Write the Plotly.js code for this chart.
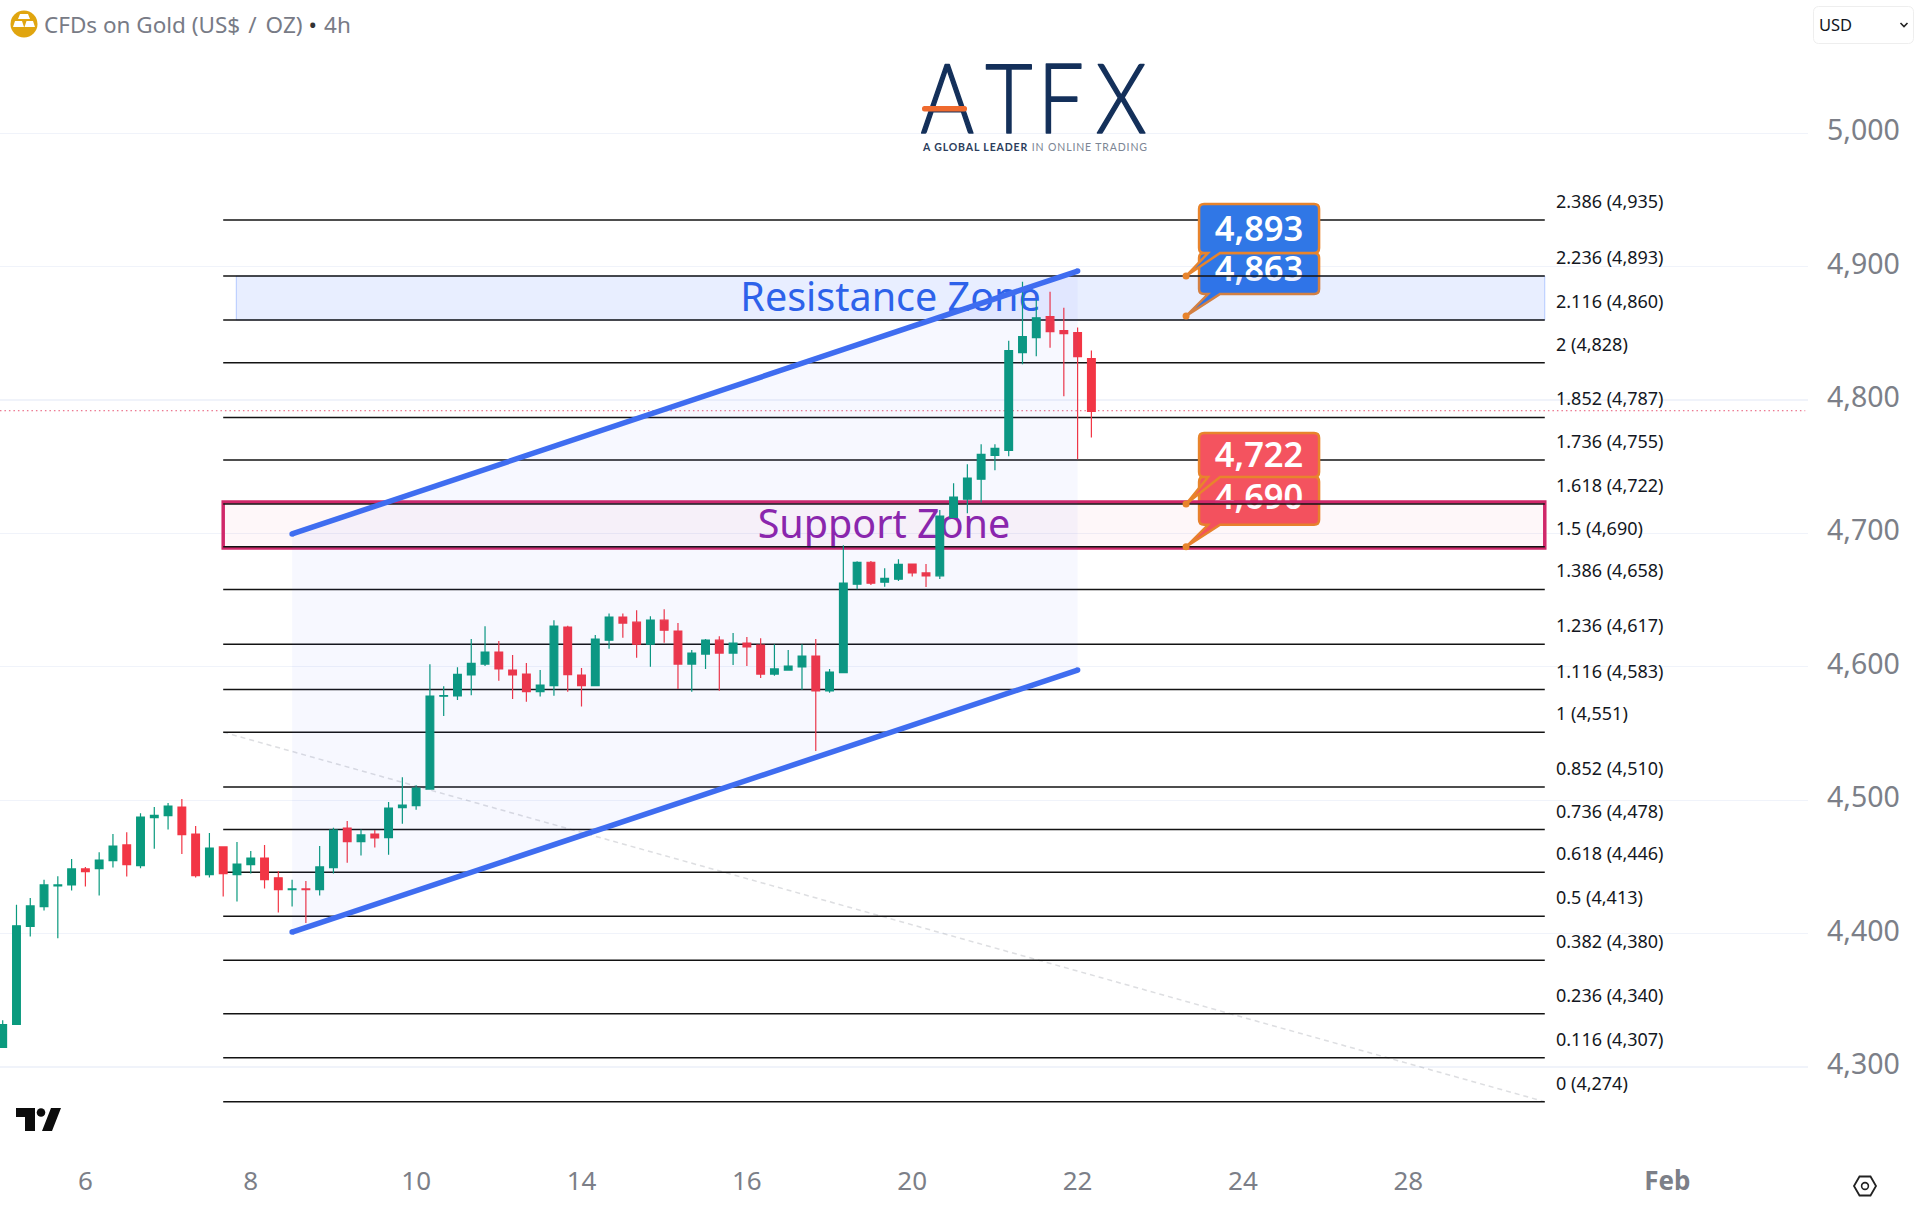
<!DOCTYPE html>
<html>
<head>
<meta charset="utf-8">
<title>CFDs on Gold</title>
<script src="https://cdn.plot.ly/plotly-3.0.1.min.js"></script>
<style>
  html, body { margin: 0; padding: 0; background: #fff; overflow: hidden; }
  #graph { position: absolute; left: 0; top: 0; width: 1918px; height: 1214px; }
  #overlay { position: absolute; left: 0; top: 0; pointer-events: none; }
</style>
</head>
<body>
<div id="graph"></div>
<svg id="overlay" width="1918" height="1214">
  <!-- symbol icon -->
  <circle cx="24" cy="24" r="13.5" fill="#e0a50f"/>
  <path d="M20 13h8l2 5h-12zM13 26l2-6h7l2 6zM24.5 26l2-6h6.5l2 6z" fill="#fff" transform="translate(0,1)"/>
  <text x="44" y="33" font-family="Noto Sans" font-size="22.5" fill="#787b86">CFDs on Gold (US$<tspan dx="8">/</tspan><tspan dx="9">OZ)</tspan><tspan fill="#333" dx="6">•</tspan><tspan dx="7">4h</tspan></text>
  <!-- logo -->
  <text transform="translate(0,133) scale(0.85,1)" x="1083 1159 1221 1289" y="0" font-family="Lato" font-weight="300" font-size="96" fill="#14305a" stroke="#14305a" stroke-width="1.6" stroke-linejoin="round">ATFX</text>
  <rect x="922" y="106" width="45" height="5.5" rx="2.5" fill="#ef6a2e"/>
  <text x="923" y="151" font-family="Lato" font-size="10.5" textLength="224" fill="#7b8594"><tspan font-weight="700" fill="#2b3d5c">A GLOBAL LEADER</tspan> IN ONLINE TRADING</text>
  <!-- currency box -->
  <rect x="1813.5" y="6.5" width="100" height="37" rx="5" fill="#fff" stroke="#eeeeee"/>
  <text x="1819" y="31" font-family="Noto Sans" font-size="16.5" fill="#131722">USD</text>
  <path d="M1900.5 23l3.5 3.5 3.5-3.5" fill="none" stroke="#222" stroke-width="1.6"/>
  <!-- tv mark -->
  <path d="M16 1108h19v23h-10v-14h-9zM51 1108h10l-9 23h-10z" fill="#0c0c0c"/>
  <circle cx="41" cy="1112.5" r="4.3" fill="#0c0c0c"/>
  <!-- settings -->
  <path d="M1854 1186l5.5-9.5h11l5.5 9.5-5.5 9.5h-11z" fill="none" stroke="#222" stroke-width="1.8"/>
  <circle cx="1865" cy="1186" r="3.4" fill="none" stroke="#222" stroke-width="1.6"/>
</svg>
<script>
// candles, one entry per 4h bar, oldest first
var opens  = [4314.8,4332,4405.4,4420.3,4435.8,4436.5,4448.5,4448.8,4454.7,4466.5,4451,4487,4488.4,4494.9,4474.7,4444.3,4465,4444.3,4451.7,4456.7,4441.8,4433,4433.5,4433,4449.5,4479.2,4469,4474.7,4472,4494.4,4495.9,4508.4,4578,4578.2,4593.9,4602.1,4611.1,4597.6,4594.6,4581.4,4585.9,4629.8,4593.9,4585.9,4620,4637.3,4633.5,4617,4635,4626.8,4602.1,4609.6,4620,4610.3,4617.8,4616.3,4594.6,4597.6,4599.9,4608.1,4581.9,4595.6,4662,4678.4,4663.4,4665.7,4677.1,4670.4,4668.2,4712,4725.7,4740.7,4758.6,4762.3,4835.6,4846.8,4862.5,4852,4850.5,4831.1];
var highs  = [4335,4421.6,4426.8,4440.3,4443,4456,4450,4461,4474.7,4476,4490.2,4494.9,4497.9,4500.9,4480.7,4475.4,4465,4468.7,4462,4466.5,4447,4440.3,4439.5,4465.7,4479.4,4484.4,4478,4477.7,4498.6,4517.3,4511.3,4601.9,4585.4,4599.6,4620.8,4630.5,4619.3,4608.8,4602.9,4597.6,4635,4630.8,4599.1,4623.8,4640,4640,4642.5,4638,4643.2,4632.8,4612.6,4620.8,4623,4625.3,4622.3,4621.5,4617,4612.6,4617,4620.8,4598.4,4691.1,4679.2,4679.4,4673.9,4680.6,4677.1,4677.1,4717.5,4737.7,4751.9,4766.8,4766.8,4844.5,4888.6,4875.2,4881.2,4869.2,4854.3,4837.1];
var lows   = [4314.8,4332,4397.9,4417.3,4396.6,4432.3,4435.3,4428.6,4449.5,4442.8,4449,4463.7,4478,4459.7,4442,4442,4427.8,4424,4445,4433.8,4415.8,4420.3,4408,4428.6,4445,4453.2,4458.5,4464.5,4459.2,4482.4,4492.9,4508.4,4563.2,4575.2,4578.7,4600.6,4589.6,4575.9,4573.9,4577.7,4578.4,4581.4,4570.2,4585.9,4613.6,4621.8,4606.8,4600.1,4618,4583.4,4581.4,4598.4,4582.1,4601.3,4600.6,4591.6,4593.4,4597.1,4582.9,4537,4580.6,4595.6,4658.2,4661.4,4660,4664.4,4667.7,4659.9,4665.9,4712,4715.2,4723.2,4747.4,4757.8,4826.9,4832.8,4839.3,4802.9,4755.6,4772];
var closes = [4331.8,4405.9,4420.8,4436.5,4436.5,4448.5,4446.5,4455.2,4465.7,4451.7,4487.4,4488.7,4495.6,4474.2,4443.5,4464.2,4445,4452.2,4456.7,4440.5,4433,4433.5,4433,4450,4477.7,4469,4474,4471.7,4494.1,4496.4,4509.1,4578,4578.5,4594.4,4602.6,4611.1,4598.4,4593.9,4581.4,4586.4,4630.5,4594.1,4585.9,4620.8,4637.3,4632.8,4617,4635,4627.5,4602.1,4610.3,4620,4610.3,4617.8,4615,4594.6,4598.4,4600.6,4608.1,4581.9,4596.1,4662.7,4678.4,4662.7,4666.4,4676.9,4670.4,4668.2,4713,4727.2,4741.4,4759.3,4763.8,4837.1,4847.5,4861.7,4851.3,4849.8,4832.6,4791.5];

// day labels on the time axis (bar positions, weekends are skipped)
var dayBars   = [6,18,30,42,54,66,78,90,102,120.8];
var dayLabels = ['6','8','10','14','16','20','22','24','28','<b>Feb</b>'];

// fibonacci extension levels
var fibRatios = ['2.386','2.236','2.116','2','1.852','1.736','1.618','1.5','1.386','1.236','1.116','1','0.852','0.736','0.618','0.5','0.382','0.236','0.116','0'];
var fibPrices = [4935,4893,4860,4828,4787,4755,4722,4690,4658,4617,4583,4551,4510,4478,4446,4413,4380,4340,4307,4274];
var fibBars   = [16,111.9];

// rising channel
var channelBars  = [21,78];
var channelUpper = [4699.6,4896.7];
var channelLower = [4401.2,4597.6];

// fib trend, last price
var trendPrices = [4551,4274];
var lastPrice   = 4792;

// zones
var resistanceZone = [4860,4893];
var supportZone    = [4689,4723.5];

// price callouts
var calloutBar    = 85.87;
var calloutPrices = [4893,4863,4722,4690];

var barPx = 13.78, pricePx = 1.334;   // px per bar, px per dollar
var blue = '#3077e6', red = '#f4535f', orange = '#e8842c';

function calloutPath(price, top, bottom){
    var X = function(d){ return calloutBar + d/barPx; };
    var Y = function(d){ return price - d/pricePx; };
    var r = 5, L = 13, R = 133;
    return 'M'+X(L+r)+','+Y(top)+' L'+X(R-r)+','+Y(top)+' Q'+X(R)+','+Y(top)+' '+X(R)+','+Y(top+r)+
           ' L'+X(R)+','+Y(bottom-r)+' Q'+X(R)+','+Y(bottom)+' '+X(R-r)+','+Y(bottom)+
           ' L'+X(34)+','+Y(bottom)+' L'+X(0)+','+Y(0)+' L'+X(22)+','+Y(bottom)+
           ' L'+X(L+r)+','+Y(bottom)+' Q'+X(L)+','+Y(bottom)+' '+X(L)+','+Y(bottom-r)+
           ' L'+X(L)+','+Y(top+r)+' Q'+X(L)+','+Y(top)+' '+X(L+r)+','+Y(top)+' Z';
}

// a callout is the outline plus an empty rect that carries its text
function callout(price, top, bottom, color, textShift){
    return [{
        type: 'path', path: calloutPath(price, top, bottom), layer: 'between',
        fillcolor: color, line: {color: orange, width: 2.5}
    },{
        type: 'rect', layer: 'between', xref: 'x', yref: 'y', line: {width: 0},
        x0: calloutBar + 13/barPx, x1: calloutBar + 133/barPx,
        y0: price - (top+textShift)/pricePx, y1: price - (bottom+textShift)/pricePx,
        label: {text: price.toLocaleString('en-US'), textposition: 'middle center',
                font: {family: 'Noto Sans', size: 34.5, color: '#fff', weight: 600}}
    }];
}

var shapes = [];
shapes = shapes.concat(callout(calloutPrices[1], -63, -22, blue, -4));
shapes = shapes.concat(callout(calloutPrices[3], -70, -22, red, -2.5));

shapes.push({
    type: 'rect', layer: 'between', x0: 16.95, x1: fibBars[1], y0: resistanceZone[0], y1: resistanceZone[1],
    fillcolor: 'rgba(41,98,255,0.11)', line: {color: 'rgba(41,98,255,0.3)', width: 1},
    label: {text: 'Resistance Zone', textposition: 'middle center', font: {family: 'Noto Sans', size: 39.5, color: '#2d62ea'}}
});
shapes.push({
    type: 'rect', layer: 'between', x0: fibBars[0], x1: fibBars[1], y0: supportZone[0], y1: supportZone[1],
    fillcolor: 'rgba(233,30,99,0.035)', line: {color: '#d0286a', width: 3.5},
    label: {text: 'Support Zone', textposition: 'middle center', font: {family: 'Noto Sans', size: 39.5, color: '#8e24aa'}}
});
shapes.push({
    type: 'line', layer: 'between', x0: fibBars[0], x1: fibBars[1], y0: trendPrices[0], y1: trendPrices[1],
    line: {color: 'rgba(120,123,134,0.25)', width: 1.5, dash: '5px,4px'}
});
shapes.push({
    type: 'line', layer: 'between', x0: -0.2, x1: 130.8, y0: lastPrice, y1: lastPrice,
    line: {color: 'rgba(226,54,90,0.85)', width: 1, dash: '1.5px,3px'}
});
for(var i = 0; i < fibPrices.length; i++){
    shapes.push({
        type: 'line', layer: 'between', x0: fibBars[0], x1: fibBars[1], y0: fibPrices[i], y1: fibPrices[i],
        line: {color: '#131313', width: 1.5}
    });
}
shapes = shapes.concat(callout(calloutPrices[0], -72, -23, blue, 2));
shapes = shapes.concat(callout(calloutPrices[2], -71, -27, red, 1));

var annotations = [];
for(var i = 0; i < fibPrices.length; i++){
    annotations.push({
        x: fibBars[1] + 0.67, y: fibPrices[i], xanchor: 'left', yanchor: 'middle', yshift: 19, showarrow: false,
        text: fibRatios[i] + ' (' + fibPrices[i].toLocaleString('en-US') + ')',
        font: {family: 'Noto Sans', size: 18, color: '#131722'}
    });
}

var bars = [];
for(var i = 0; i < opens.length; i++){ bars.push(i); }

var data = [
    // channel band and its two rails
    {x: channelBars, y: channelLower, mode: 'lines', line: {color: 'rgba(0,0,0,0)', width: 0}, hoverinfo: 'skip'},
    {x: channelBars, y: channelUpper, mode: 'lines', fill: 'tonexty', fillcolor: 'rgba(70,100,255,0.045)', line: {color: 'rgba(0,0,0,0)', width: 0}, hoverinfo: 'skip'},
    {
        type: 'candlestick', x: bars, open: opens, high: highs, low: lows, close: closes,
        increasing: {line: {color: '#0a9a7e', width: 1.2}, fillcolor: '#0a9a7e'},
        decreasing: {line: {color: '#f23645', width: 1.2}, fillcolor: '#f23645'},
        whiskerwidth: 0, hoverinfo: 'skip'
    },
    {x: channelBars, y: channelUpper, mode: 'lines+markers', line: {color: '#3f6df0', width: 5.5}, marker: {color: '#3f6df0', size: 5.5}, hoverinfo: 'skip'},
    {x: channelBars, y: channelLower, mode: 'lines+markers', line: {color: '#3f6df0', width: 5.5}, marker: {color: '#3f6df0', size: 5.5}, hoverinfo: 'skip'},
    {x: [calloutBar,calloutBar,calloutBar,calloutBar], y: calloutPrices, mode: 'markers', marker: {color: orange, size: 7}, hoverinfo: 'skip'}
];

var layout = {
    width: 1918, height: 1214,
    margin: {l: 0, r: 110, t: 0, b: 54},
    paper_bgcolor: '#fff', plot_bgcolor: '#fff',
    showlegend: false, boxgap: 0.2,
    font: {family: 'Noto Sans'},
    xaxis: {
        range: [-0.196, 131], rangeslider: {visible: false}, showgrid: false, zeroline: false, showline: false,
        tickmode: 'array', tickvals: dayBars, ticktext: dayLabels, ticks: '', ticklabelstandoff: 3,
        tickfont: {family: 'Noto Sans', size: 26, color: '#7c7f88'}
    },
    yaxis: {
        range: [4230.3, 5099.9], side: 'right', showgrid: true, gridcolor: '#f0f3fa', gridwidth: 1.2, zeroline: false, showline: false,
        tickmode: 'linear', tick0: 4300, dtick: 100, tickformat: ',d', ticks: '', ticklabelstandoff: 18, ticklabelshift: -3,
        tickfont: {family: 'Noto Sans', size: 28.5, color: '#7c7f88'}
    },
    shapes: shapes,
    annotations: annotations
};

Plotly.newPlot('graph', data, layout, {displayModeBar: false, staticPlot: true});
</script>
</body>
</html>
